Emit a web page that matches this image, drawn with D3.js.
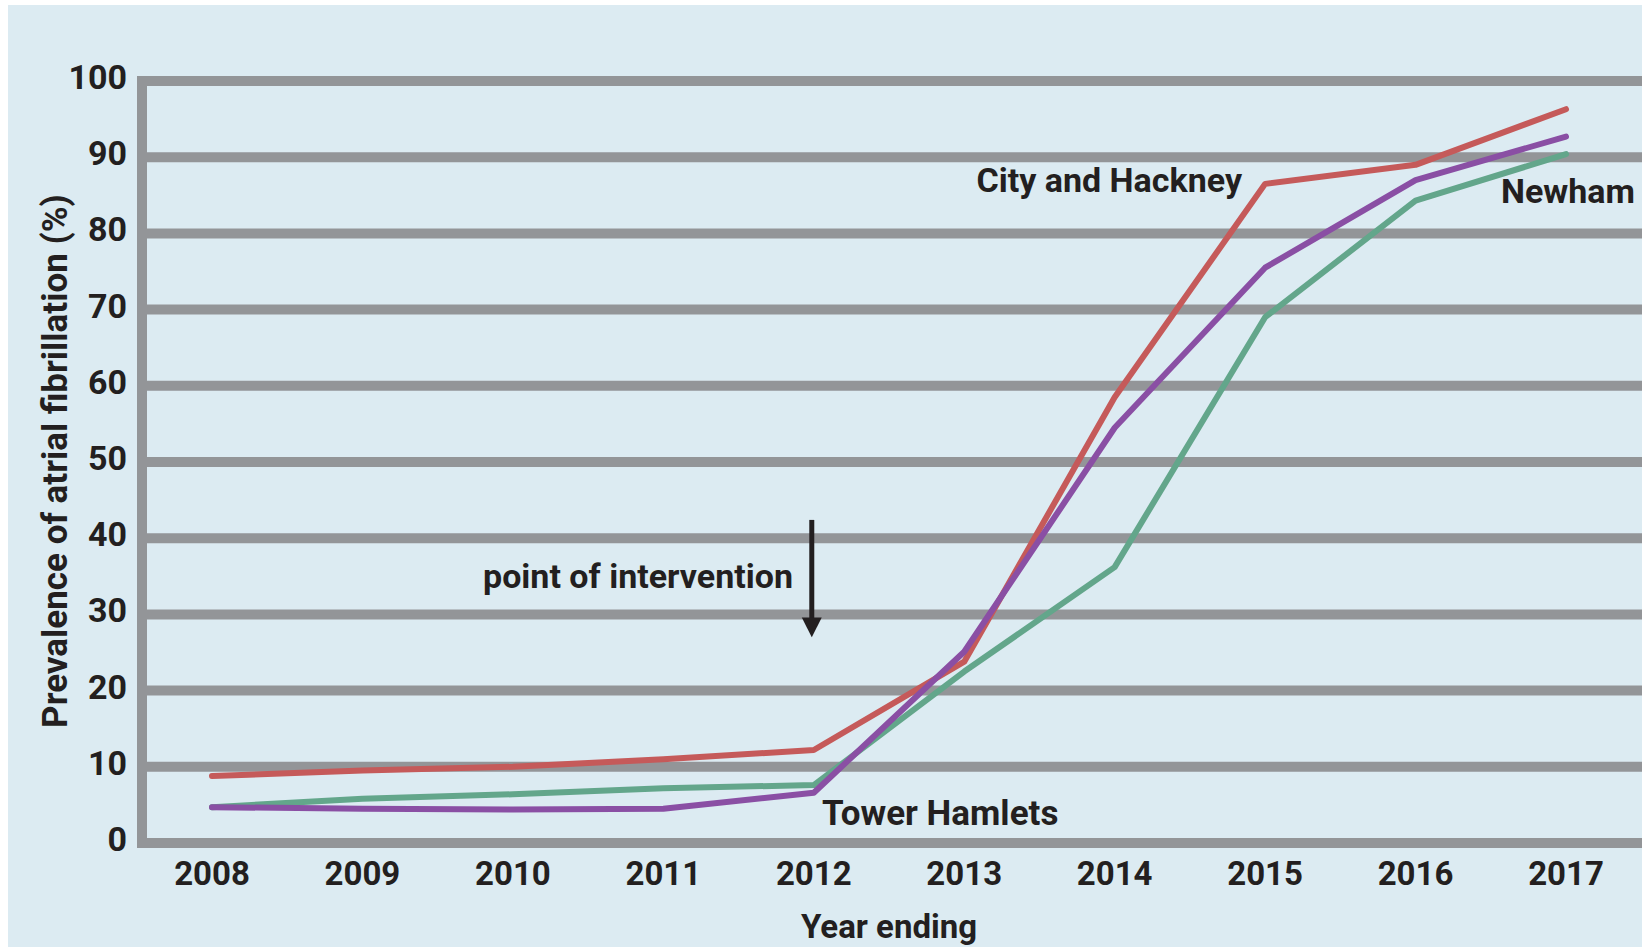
<!DOCTYPE html>
<html>
<head>
<meta charset="utf-8">
<script src="https://cdn.jsdelivr.net/npm/d3@7"></script>
<style>
  html, body { margin: 0; padding: 0; background: #fff; }
  svg { display: block; }
  text { font-family: Roboto, "Open Sans", sans-serif; font-weight: 700; fill: #231f20; }
</style>
</head>
<body>
<svg width="1642" height="947"></svg>
<script>
// data
var years = [2008, 2009, 2010, 2011, 2012, 2013, 2014, 2015, 2016, 2017];
var yTicks = [0, 10, 20, 30, 40, 50, 60, 70, 80, 90, 100];
var cityHackney = [8.8, 9.5, 10.0, 11.0, 12.2, 23.8, 58.5, 86.5, 89.0, 96.3];
var newham = [4.7, 5.8, 6.4, 7.2, 7.6, 22.5, 36.2, 69.0, 84.3, 90.4];
var towerHamlets = [4.7, 4.5, 4.4, 4.5, 6.6, 25.1, 54.5, 75.5, 87.0, 92.7];
// drawing order: green under, purple on top
var seriesNames = ["Newham", "City and Hackney", "Tower Hamlets"];
var seriesColors = ["#63a68b", "#c55a5a", "#8a4fa4"];
var seriesValues = [newham, cityHackney, towerHamlets];

var svg = d3.select('svg');
var W = 1642, H = 947;

// background panel
svg.append('rect')
  .attr('x', 8).attr('y', 5)
  .attr('width', W - 8).attr('height', H - 5)
  .attr('fill', '#dcebf2');

var x = d3.scaleLinear().domain([2008, 2017]).range([212, 1566]);
var y = d3.scaleLinear().domain([0, 100]).range([843, 81]);
var axisX = 142;

// gridlines
svg.append('g').selectAll('line')
  .data(yTicks)
  .enter().append('line')
  .attr('x1', axisX - 5).attr('x2', W)
  .attr('y1', d => y(d)).attr('y2', d => y(d))
  .attr('stroke', '#939598')
  .attr('stroke-width', 10);

// y axis line
svg.append('line')
  .attr('x1', axisX).attr('x2', axisX)
  .attr('y1', y(100) - 5).attr('y2', y(0) + 5)
  .attr('stroke', '#939598')
  .attr('stroke-width', 10);

// y tick labels
svg.append('g').selectAll('text')
  .data(yTicks)
  .enter().append('text')
  .attr('x', 127)
  .attr('y', d => y(d) + 8)
  .attr('text-anchor', 'end')
  .attr('font-size', 34)
  .text(d => d);

// x tick labels
svg.append('g').selectAll('text')
  .data(years)
  .enter().append('text')
  .attr('x', d => x(d))
  .attr('y', 885)
  .attr('text-anchor', 'middle')
  .attr('font-size', 33)
  .text(d => d);

// axis titles
svg.append('text')
  .attr('x', 889).attr('y', 938)
  .attr('text-anchor', 'middle')
  .attr('font-size', 33)
  .text('Year ending');

svg.append('text')
  .attr('transform', 'translate(67,461) rotate(-90)')
  .attr('text-anchor', 'middle')
  .attr('font-size', 35)
  .text('Prevalence of atrial fibrillation (%)');

// lines
var line = d3.line()
  .x((d, i) => x(years[i]))
  .y(d => y(d));

svg.append('g').selectAll('path')
  .data(seriesValues)
  .enter().append('path')
  .attr('d', d => line(d))
  .attr('fill', 'none')
  .attr('stroke', (d, i) => seriesColors[i])
  .attr('stroke-width', 6)
  .attr('stroke-linejoin', 'round')
  .attr('stroke-linecap', 'round');

// series labels
svg.append('text')
  .attr('x', 1242).attr('y', 192)
  .attr('text-anchor', 'end')
  .attr('font-size', 34)
  .text(seriesNames[1]);

svg.append('text')
  .attr('x', 1501).attr('y', 203)
  .attr('font-size', 34)
  .text(seriesNames[0]);

svg.append('text')
  .attr('x', 822).attr('y', 825)
  .attr('font-size', 35)
  .text(seriesNames[2]);

// intervention arrow at 2012
var arrowYear = 2012;
svg.append('line')
  .attr('x1', x(arrowYear) - 2).attr('x2', x(arrowYear) - 2)
  .attr('y1', y(42.4)).attr('y2', y(29))
  .attr('stroke', '#231f20')
  .attr('stroke-width', 5);
svg.append('path')
  .attr('d', 'M' + (x(arrowYear) - 12) + ',' + y(29.6) + 'L' + (x(arrowYear) + 8) + ',' + y(29.6) + 'L' + (x(arrowYear) - 2) + ',' + y(27) + 'Z')
  .attr('fill', '#231f20');

svg.append('text')
  .attr('x', 793).attr('y', 588)
  .attr('text-anchor', 'end')
  .attr('font-size', 34)
  .text('point of intervention');
</script>
</body>
</html>
